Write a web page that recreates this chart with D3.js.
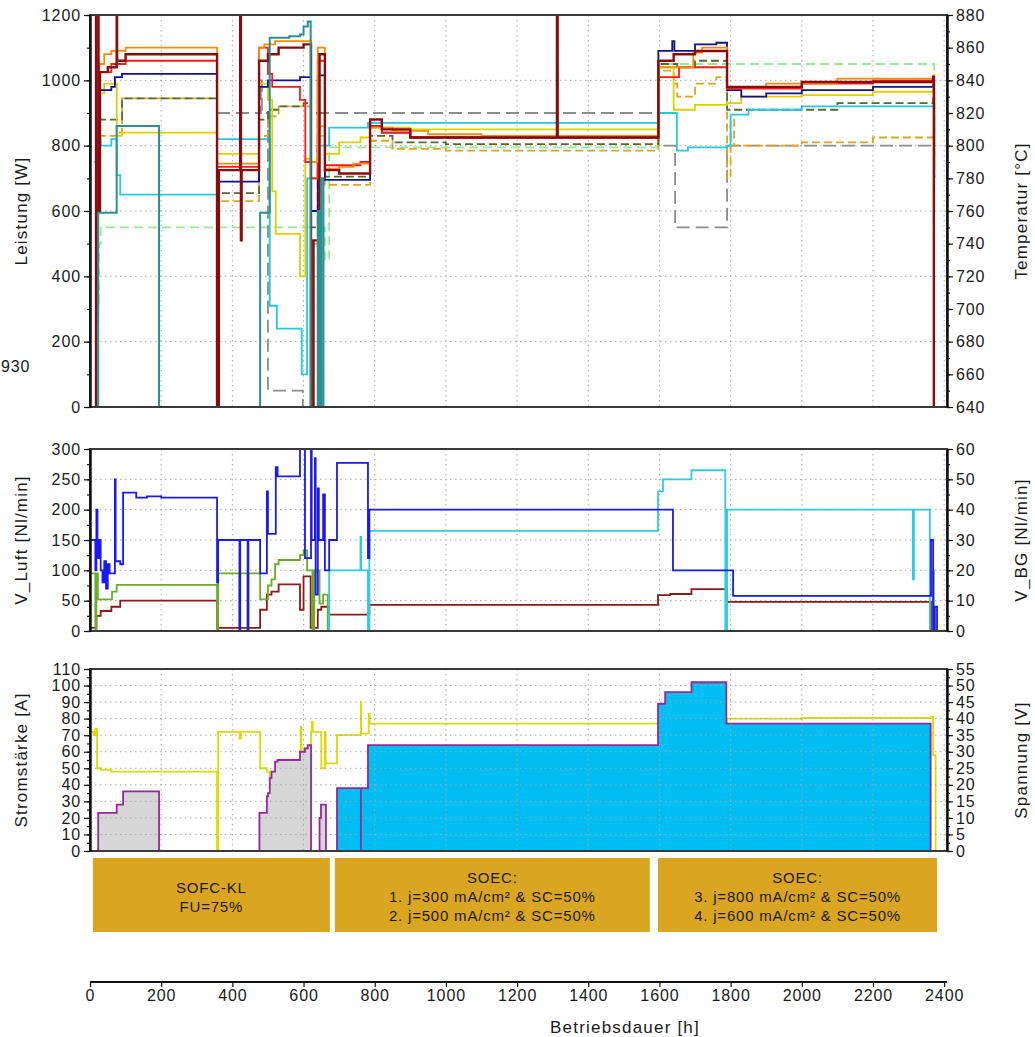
<!DOCTYPE html>
<meta charset="utf-8">
<head>
    <title>Betriebsverlauf SOFC / SOEC</title>
    <style>
        body { margin: 0; background: #fff; }
        text { font-family: "Liberation Sans", Arial, sans-serif; fill: #1a1a1a; }
    </style>
</head>
<body>
<script src="https://cdn.jsdelivr.net/npm/d3@7/dist/d3.min.js"></script>
<script>
    // ---- data: [Betriebsdauer h, value], step after, null = gap ----
    // top panel, temperatures in °C (right axis)
    var tOrange = [[15,700],[18,760],[22,800],[26,850],[40,856],[60,858],[100,860],[357,789],[475,860],[490,862],[520,864],[621,790],[640,860],[660,786],[700,787],[740,789],[787,811],[850,809],[950,807],[1100,806],[1597,848],[1695,857],[1720,860],[1790,836],[1900,838],[2100,841],[2369,843],[2372,785]];
    var tRed = [[15,690],[18,740],[22,790],[26,845],[60,850],[100,852],[357,787],[475,860],[500,844],[512,836],[590,828],[605,790],[621,780],[640,852],[660,788],[700,788],[760,790],[787,812],[820,808],[900,805],[1597,842],[1655,848],[1790,835],[2000,838],[2200,840],[2369,842],[2372,780]];
    var tDarkRed = [[15,640],[17,880],[24,760],[28,845],[50,848],[75,880],[76,852],[100,856],[357,640],[362,785],[422,880],[424,742],[426,785],[475,852],[500,856],[530,860],[600,862],[621,640],[628,742],[645,856],[660,785],[700,783],[787,816],[820,810],[900,805],[1311,805],[1312,880],[1314,805],[1597,852],[1640,856],[1700,858],[1790,836],[2000,839],[2369,842],[2371,640]];
    var tNavy = [[15,700],[22,790],[28,834],[60,836],[70,842],[90,844],[357,778],[475,836],[500,840],[590,842],[621,760],[640,843],[660,779],[787,812],[820,808],[900,805],[1597,858],[1636,864],[1642,858],[1700,862],[1760,863],[1790,834],[1830,830],[1900,832],[2000,834],[2200,836],[2369,837],[2372,760]];
    var tYellow = [[15,720],[22,800],[28,832],[40,838],[75,806],[90,808],[357,795],[475,838],[500,828],[512,772],[522,746],[590,720],[605,792],[621,780],[640,806],[660,795],[700,802],[760,805],[787,811],[900,810],[1597,848],[1640,822],[1700,825],[1790,826],[1830,830],[2000,831],[2200,833],[2369,834],[2372,790]];
    var tOlive = [[15,700],[22,780],[28,816],[80,816],[90,829],[357,771],[475,816],[500,822],[530,824],[600,826],[621,750],[640,820],[660,781],[787,806],[850,802],[1000,801],[1597,850],[1650,848],[1700,852],[1790,822],[1900,822],[2100,826],[2369,829],[2372,780]];
    var tGoldenrod = [[15,690],[22,770],[28,806],[75,808],[90,829],[357,766],[475,806],[500,818],[530,824],[621,740],[640,812],[660,776],[787,803],[850,798],[1000,797],[1597,846],[1640,838],[1650,830],[1700,838],[1760,842],[1790,780],[1800,816],[1810,800],[2000,802],[2200,805],[2369,807],[2372,780]];
    var tLightGreen = [[12,680],[18,700],[25,740],[30,750],[621,700],[640,750],[660,730],[672,799],[1597,850],[2369,850],[2372,740]];
    var tGray = [[357,820],[480,840],[483,820],[500,650],[590,650],[598,640],[599,null],[635,820],[1597,800],[1644,750],[1790,800],[2369,800]];
    var tCyan = [[12,790],[20,804],[30,800],[60,804],[75,782],[85,770],[357,804],[500,804],[505,702],[525,688],[590,688],[595,660],[605,660],[610,780],[640,800],[672,811],[781,814],[1597,820],[1649,797],[1680,799],[1790,800],[1800,819],[1850,822],[2000,824],[2369,824],[2372,780]];
    // top panel, Leistung in W (left axis)
    var pTeal = [[23,0],[23,595],[75,860],[194,0],[195,null],[478,0],[478,595],[505,1130],[560,1135],[590,1140],[600,1165],[612,1180],[620,0],[621,null],[640,0],[640,600],[645,0],[646,null],[650,0],[650,700],[656,0]];

    // middle panel: V_Luft (left axis) and V_BG (right axis), Nl/min
    var vLuftBlue = [[0,150],[15,100],[18,200],[21,120],[25,150],[30,100],[35,80],[40,115],[45,70],[50,110],[55,95],[70,250],[72,115],[85,110],[93,228],[130,220],[160,222],[200,220],[357,80],[360,150],[420,0],[422,150],[443,0],[445,150],[478,95],[497,230],[500,160],[522,270],[527,255],[590,300],[604,120],[621,300],[623,150],[632,285],[634,60],[640,235],[643,150],[655,225],[660,100],[672,150],[694,277],[781,120],[785,200],[1638,100],[1807,58],[2363,150],[2369,0],[2374,40],[2380,0]];
    var vLuftDarkRed = [[0,5],[18,25],[30,33],[60,40],[85,50],[357,5],[478,35],[497,60],[510,65],[530,77],[590,35],[600,90],[620,5],[640,35],[650,40],[672,27],[785,43],[1596,59],[1630,61],[1690,69],[1790,48],[2363,0]];
    var vLuftGreen = [[0,95],[15,0],[18,95],[22,52],[62,65],[75,76],[357,0],[360,95],[420,0],[422,95],[443,0],[445,95],[478,52],[500,75],[510,85],[520,110],[530,117],[590,125],[600,133],[610,100],[625,0],[630,100],[645,45],[655,60],[668,0],[669,null],[2368,0],[2369,100],[2371,0]];
    var vBgCyan = [[670,0],[672,20],[760,31],[762,20],[781,0],[785,33],[1596,46],[1610,50],[1690,53],[1785,0],[1790,40],[2312,17],[2315,40],[2360,0]];

    // bottom panel: Stromstärke in A (left axis), Spannung in V (right axis)
    var iSofc = [[20,0],[23,23],[75,28],[93,36],[194,0],[195,null],[476,0],[476,23],[497,33],[500,35],[505,44],[510,48],[520,54],[527,55],[590,60],[604,62],[612,64],[621,0],[622,null],[640,0],[645,20],[649,28],[663,0]];
    var iSoec = [[694,0],[694,38],[781,64],[1596,89],[1616,96],[1690,102],[1788,77],[2362,0]];
    var iSpikes = [[761,38]];
    var uStack = [[0,36],[10,35],[15,37],[20,25],[30,24.5],[60,24],[357,0],[360,36],[420,34],[424,36],[478,25],[497,24],[505,22.5],[590,30],[592,37.5],[594,31],[621,36],[623,39],[626,36],[650,25],[660,36],[662,26.5],[694,35],[760,35.5],[761,45],[762,35.5],[781,35.5],[783,41.5],[786,38.5],[1790,40],[2000,40.2],[2362,40.5],[2369,29],[2376,0]];

    // phases
    var phaseStart = [8, 688, 1596];
    var phaseEnd = [674, 1573, 2380];
    var phaseText = [
        ["SOFC-KL", "FU=75%"],
        ["SOEC:", "1. j=300 mA/cm\u00b2 & SC=50%", "2. j=500 mA/cm\u00b2 & SC=50%"],
        ["SOEC:", "3. j=800 mA/cm\u00b2 & SC=50%", "4. j=600 mA/cm\u00b2 & SC=50%"]
    ];

    var xTicks = d3.range(0, 2401, 200);

    // ---- layout ----
    var width = 1035, height = 1037;
    var svg = d3.select("body").append("svg")
        .attr("width", width)
        .attr("height", height);

    var x = d3.scaleLinear().domain([0, 2408]).range([90, 947]);

    var panels = [
        { top: 15, bottom: 407, left: [0, 1200], right: [640, 880], lStep: 200, rStep: 20,
          lTitle: "Leistung [W]", rTitle: "Temperatur [\u00b0C]" },
        { top: 449, bottom: 631, left: [0, 300], right: [0, 60], lStep: 50, rStep: 10,
          lTitle: "V_Luft [Nl/min]", rTitle: "V_BG [Nl/min]" },
        { top: 669, bottom: 851, left: [0, 110], right: [0, 55], lStep: 10, rStep: 5,
          lTitle: "Stromst\u00e4rke [A]", rTitle: "Spannung [V]" }
    ];

    panels.forEach(function (p, i) {
        p.yL = d3.scaleLinear().domain(p.left).range([p.bottom, p.top]);
        p.yR = d3.scaleLinear().domain(p.right).range([p.bottom, p.top]);
        p.g = svg.append("g");
        p.clip = "clip" + i;
        svg.append("clipPath").attr("id", p.clip)
            .append("rect")
            .attr("x", 90).attr("y", p.top - 1)
            .attr("width", 857).attr("height", p.bottom - p.top + 2);
    });

    function stepLine(y) {
        return d3.line()
            .defined(function (d) { return d[1] !== null; })
            .x(function (d) { return x(d[0]); })
            .y(function (d) { return y(d[1]); })
            .curve(d3.curveStepAfter);
    }

    function drawSeries(p, data, y, color, w, dash) {
        p.g.append("path")
            .datum(data)
            .attr("clip-path", "url(#" + p.clip + ")")
            .attr("d", stepLine(y))
            .attr("fill", "none")
            .attr("stroke", color)
            .attr("stroke-width", w)
            .attr("stroke-dasharray", dash || null);
    }

    function drawGrid(p) {
        var grid = p.g.append("g").attr("stroke", "#a8a8a8").attr("stroke-width", 1)
            .attr("stroke-dasharray", "1.5,3.5");
        var hy = d3.range(p.left[0] + p.lStep, p.left[1], p.lStep);
        grid.selectAll(".h").data(hy).enter().append("line")
            .attr("x1", 90).attr("x2", 947)
            .attr("y1", function (d) { return p.yL(d); })
            .attr("y2", function (d) { return p.yL(d); });
        grid.selectAll(".v").data(xTicks.slice(1)).enter().append("line")
            .attr("x1", function (d) { return x(d); })
            .attr("x2", function (d) { return x(d); })
            .attr("y1", p.top).attr("y2", p.bottom);
    }

    function styleAxis(g) {
        g.selectAll("path").attr("stroke", "#111").attr("stroke-width", 2);
        g.selectAll("line").attr("stroke", "#111").attr("stroke-width", 1.2);
        g.selectAll("text").style("font-size", "16px").style("letter-spacing", "0.9px")
            .attr("fill", "#1a1a1a");
    }

    function drawFrame(p) {
        p.g.append("rect")
            .attr("x", 90).attr("y", p.top)
            .attr("width", 857).attr("height", p.bottom - p.top)
            .attr("fill", "none").attr("stroke", "#3a3a3a").attr("stroke-width", 2);

        var lMinor = d3.range(p.left[0], p.left[1] + 0.001, p.lStep / 2);
        var rMinor = d3.range(p.right[0], p.right[1] + 0.001, p.rStep / 2);

        p.g.append("g").attr("transform", "translate(90,0)")
            .call(d3.axisLeft(p.yL).tickValues(lMinor).tickSize(3).tickFormat("").tickSizeOuter(0))
            .call(styleAxis);
        p.g.append("g").attr("transform", "translate(90,0)")
            .call(d3.axisLeft(p.yL).tickValues(d3.range(p.left[0], p.left[1] + 0.001, p.lStep))
                .tickSize(6).tickPadding(3).tickSizeOuter(0).tickFormat(d3.format("d")))
            .call(styleAxis);
        p.g.append("g").attr("transform", "translate(947,0)")
            .call(d3.axisRight(p.yR).tickValues(rMinor).tickSize(3).tickFormat("").tickSizeOuter(0))
            .call(styleAxis);
        p.g.append("g").attr("transform", "translate(947,0)")
            .call(d3.axisRight(p.yR).tickValues(d3.range(p.right[0], p.right[1] + 0.001, p.rStep))
                .tickSize(6).tickPadding(3).tickSizeOuter(0).tickFormat(d3.format("d")))
            .call(styleAxis);

        var cy = (p.top + p.bottom) / 2;
        p.g.append("text")
            .attr("transform", "translate(27," + cy + ") rotate(-90)")
            .attr("text-anchor", "middle")
            .style("font-size", "17px").style("letter-spacing", "1.2px")
            .text(p.lTitle);
        p.g.append("text")
            .attr("transform", "translate(1027," + cy + ") rotate(-90)")
            .attr("text-anchor", "middle")
            .style("font-size", "17px").style("letter-spacing", "1.2px")
            .text(p.rTitle);
    }

    // ---- top panel ----
    var P0 = panels[0];
    drawGrid(P0);
    drawSeries(P0, tLightGreen, P0.yR, "#90ee90", 1.8, "9,5");
    drawSeries(P0, tGray, P0.yR, "#8c8c8c", 1.8, "13,6");
    drawSeries(P0, tGoldenrod, P0.yR, "#daa520", 1.8, "8,4");
    drawSeries(P0, tOlive, P0.yR, "#556b2f", 1.8, "8,4");
    drawSeries(P0, tCyan, P0.yR, "#22c8e4", 1.8);
    drawSeries(P0, tYellow, P0.yR, "#e0d000", 1.8);
    drawSeries(P0, tNavy, P0.yR, "#12128e", 1.8);
    drawSeries(P0, tRed, P0.yR, "#ff1a1a", 1.8);
    drawSeries(P0, tOrange, P0.yR, "#ff8c00", 1.8);
    drawSeries(P0, tDarkRed, P0.yR, "#8b0a0a", 2.4);
    drawSeries(P0, pTeal, P0.yL, "#2a9090", 2);
    drawFrame(P0);

    // ---- middle panel ----
    var P1 = panels[1];
    drawGrid(P1);
    drawSeries(P1, vLuftDarkRed, P1.yL, "#8b1a1a", 1.8);
    drawSeries(P1, vLuftGreen, P1.yL, "#6aae28", 1.8);
    drawSeries(P1, vBgCyan, P1.yR, "#2ccde0", 1.8);
    drawSeries(P1, vLuftBlue, P1.yL, "#1a1af0", 1.8);
    drawFrame(P1);

    // ---- bottom panel ----
    var P2 = panels[2];
    drawSeries(P2, uStack, P2.yR, "#dcdc00", 1.8);
    var area = d3.area()
        .defined(function (d) { return d[1] !== null; })
        .x(function (d) { return x(d[0]); })
        .y0(P2.yL(0))
        .y1(function (d) { return P2.yL(d[1]); })
        .curve(d3.curveStepAfter);
    P2.g.append("path").datum(iSofc).attr("d", area).attr("fill", "#d6d6d6");
    P2.g.append("path").datum(iSoec).attr("d", area).attr("fill", "#00bdf2");
    drawGrid(P2);
    drawSeries(P2, iSofc, P2.yL, "#922a9a", 1.8);
    drawSeries(P2, iSoec, P2.yL, "#922a9a", 1.8);
    P2.g.selectAll(".spike").data(iSpikes).enter().append("line")
        .attr("x1", function (d) { return x(d[0]); })
        .attr("x2", function (d) { return x(d[0]); })
        .attr("y1", P2.yL(0))
        .attr("y2", function (d) { return P2.yL(d[1]); })
        .attr("stroke", "#922a9a").attr("stroke-width", 1.8);
    drawFrame(P2);

    // ---- phase boxes ----
    var phases = svg.append("g");
    phaseStart.forEach(function (s, i) {
        var x0 = x(s), x1 = x(phaseEnd[i]);
        phases.append("rect")
            .attr("x", x0).attr("y", 858)
            .attr("width", x1 - x0).attr("height", 74)
            .attr("fill", "#daa520");
        var lines = phaseText[i];
        var y0 = 897 - (lines.length - 1) * 19 / 2 + 5;
        lines.forEach(function (t, j) {
            phases.append("text")
                .attr("x", (x0 + x1) / 2)
                .attr("y", y0 + j * 19)
                .attr("text-anchor", "middle")
                .style("font-size", "15px").style("letter-spacing", "0.8px")
                .attr("fill", "#222")
                .text(t);
        });
    });

    // ---- time axis ----
    var xAxis = svg.append("g").attr("transform", "translate(0,982)")
        .call(d3.axisBottom(x).tickValues(xTicks).tickSize(5).tickPadding(3)
            .tickSizeOuter(0).tickFormat(d3.format("d")))
        .call(styleAxis);
    xAxis.select(".domain").attr("d", "M90,0H947");

    svg.append("text")
        .attr("x", 625).attr("y", 1033)
        .attr("text-anchor", "middle")
        .style("font-size", "17px").style("letter-spacing", "1.2px")
        .text("Betriebsdauer [h]");

    // stray label at the left edge
    svg.append("text")
        .attr("x", 1).attr("y", 372)
        .attr("text-anchor", "start")
        .style("font-size", "16px").style("letter-spacing", "0.9px")
        .text("930");
</script>
</body>
</html>
